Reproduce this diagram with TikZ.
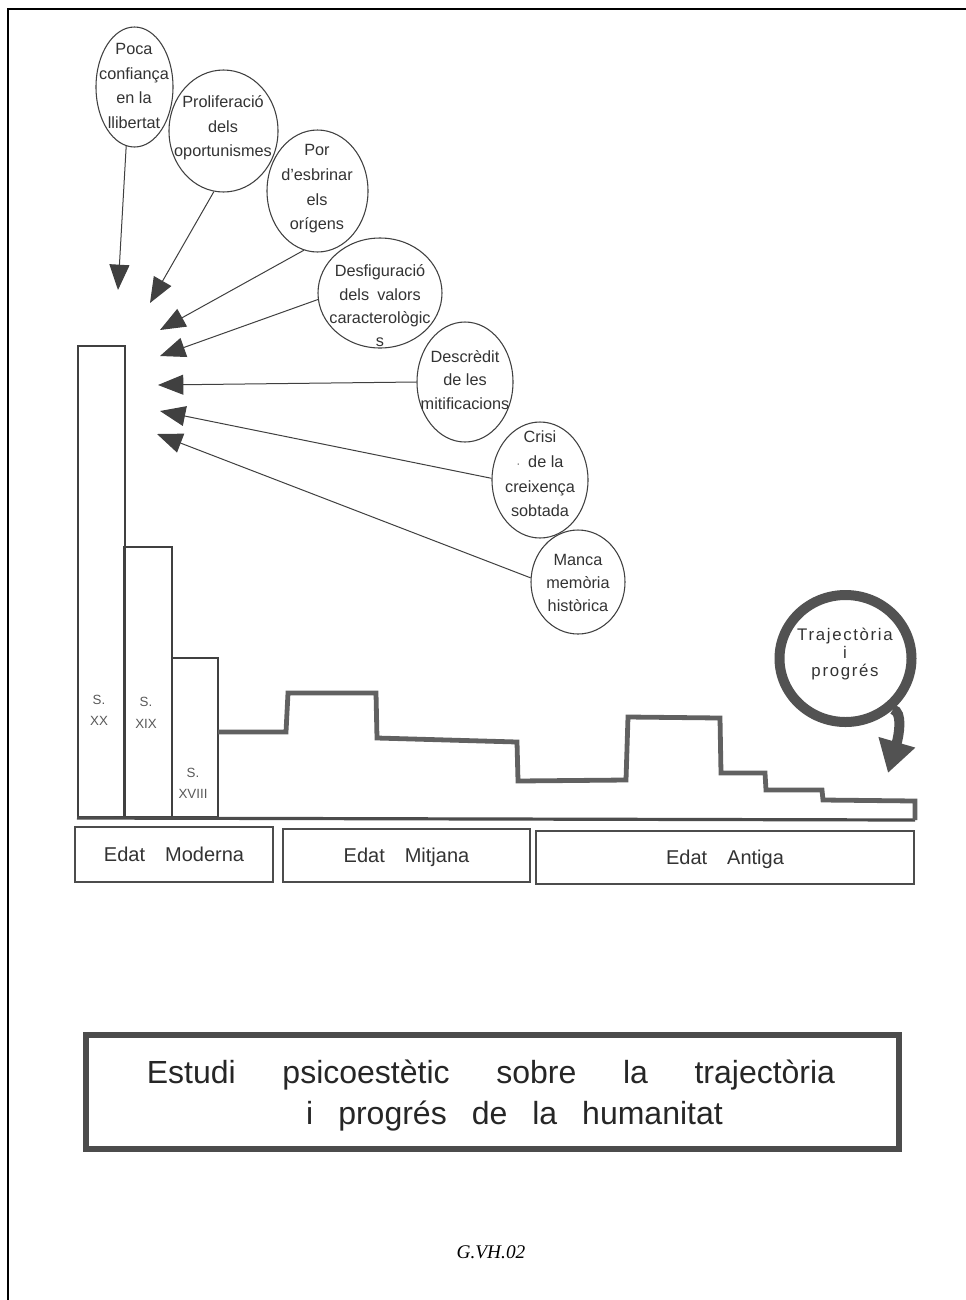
\documentclass[tikz,border=0pt]{standalone}
\usepackage{fontspec}
\setmainfont{Liberation Sans}
\newfontfamily\sigfont{Liberation Serif}
\newfontfamily\spacedfont{Liberation Sans}[LetterSpace=10]
\usetikzlibrary{shapes.geometric,arrows.meta}
\begin{document}
\begin{tikzpicture}[x=0.75pt,y=-0.75pt,
  bub/.style={ellipse,draw=black!75,line width=0.8pt,inner sep=0pt},
  bsz/.style 2 args={minimum width=#1*0.75pt,minimum height=#2*0.75pt},
  btxt/.style={align=center,inner sep=0pt,text=black!80,font=\fontsize{12.2pt}{18.5pt}\selectfont},
  arr/.style={draw=black!75,line width=0.75pt,-{Triangle[length=19pt,width=15pt]}},
  bar/.style={draw=black!75,line width=2.2pt},
  stepln/.style={draw=black!62,line width=3.6pt,line join=miter},
  barlbl/.style={align=center,inner sep=0pt,text=black!65,font=\fontsize{10pt}{16pt}\selectfont},
  erabox/.style={draw=black!70,line width=0.9pt,inner sep=0pt,text height=12pt,text depth=1pt,text=black!80,font=\fontsize{15pt}{18pt}\selectfont},
  ringnode/.style={ellipse,draw=black!68,line width=7.5pt,inner sep=0pt},
  ringarr/.style={draw=black!68,line width=7.5pt,-{Triangle[length=24pt,width=27pt]}},
  ringtxt/.style={align=center,inner sep=0pt,text=black!80,font=\spacedfont\fontsize{12.6pt}{13.2pt}\selectfont},
  titlebox/.style={draw=black!70,line width=4.5pt,inner sep=0pt},
  titletxt/.style={inner sep=0pt,text=black!85,font=\fontsize{24pt}{29pt}\selectfont},
  sig/.style={inner sep=0pt,font=\sigfont\itshape\fontsize{14.5pt}{17pt}\selectfont}
]
\useasboundingbox[fill=white] (0,0) rectangle (966,1300);
% outer frame
\draw[line width=2.2pt] (8,1320) -- (8,9) -- (990,9);

% bubbles
\node[bub,bsz={77}{120}] (c1) at (134.5,87) {};
\node[bub,bsz={109}{122}] (c2) at (223.5,131) {};
\node[bub,bsz={101}{122}] (c3) at (317.5,191) {};
\node[bub,bsz={124}{110}] (c4) at (380,293) {};
\node[bub,bsz={96}{120}] (c5) at (465,382) {};
\node[bub,bsz={96}{116}] (c6) at (540,480) {};
\node[bub,bsz={94}{104}] (c7) at (578,582) {};

\node[btxt] (c1t) at (134,86) {Poca\\confiança\\en la\\llibertat};
\node[btxt] (c2t) at (223,128) {Proliferació\\dels\\oportunismes};
\node[btxt] (c3t) at (317,189) {Por\\d'esbrinar\\els\\orígens};
\node[btxt,font=\fontsize{12.2pt}{17.5pt}\selectfont] (c4t) at (380,306) {Desfiguració\\dels\enspace valors\\caracterològic\\s};
\node[btxt,font=\fontsize{12.2pt}{17.5pt}\selectfont] (c5t) at (465,380) {Descrèdit\\de les\\mitificacions};
\node[btxt] (c6t) at (540,474) {Crisi\\{\footnotesize·}\enspace de la\\creixença\\sobtada};
\node[btxt,font=\fontsize{12.2pt}{17pt}\selectfont] (c7t) at (578,583) {Manca\\memòria\\històrica};

% arrow tips
\coordinate (t1) at (118,290);
\coordinate (t2) at (150,303);
\coordinate (t3) at (160,330);
\coordinate (t4) at (160,356);
\coordinate (t5) at (158,385);
\coordinate (t6) at (160,411);
\coordinate (t7) at (157,434);

\draw[arr] (c1.262) -- (t1);
\draw[arr] (c2.261) -- (t2);
\draw[arr] (c3.257) -- (t3);
\draw[arr] (c4.186) -- (t4);
\draw[arr] (c5.180) -- (t5);
\draw[arr] (c6.178) -- (t6);
\draw[arr] (c7.175) -- (t7);

% bars
\draw[bar] (78,346) rectangle (125,817);
\draw[bar] (124,547) rectangle (172,817);
\draw[bar] (172,658) rectangle (218,817);
\node[barlbl] (b1) at (99,710) {S.\\XX};
\node[barlbl] (b2) at (146,713) {S.\\XIX};
\node[barlbl] (b3) at (193,783) {S.\\XVIII};

% baseline
\draw[draw=black!70,line width=2.4pt] (77,818) -- (915,820);
% step line
\draw[stepln] (218,732) -- (286,732) -- (288,693) -- (376,693) -- (377,738)
  -- (517,742) -- (518,781) -- (626,780) -- (628,717) -- (720,718) -- (721,773)
  -- (765,773) -- (766,790) -- (822,790) -- (823,800) -- (915,801) -- (915,820);

% trajectory ring
\node[ringnode,bsz={132}{127}] (traj) at (845.5,658.5) {};
\node[ringtxt] (trajt) at (845,654) {Trajectòria\\i\\progrés};
\coordinate (tipR) at (888,773);
\draw[ringarr] (traj.-47) .. controls (903,712) and (899,735) .. (tipR);

% era boxes
\node[erabox,bsz={198}{55}] (e1) at (174,854.5) {Edat\quad Moderna};
\node[erabox,bsz={247}{53}] (e2) at (406.5,855.5) {Edat\quad Mitjana};
\node[erabox,bsz={378}{53}] (e3) at (725,857.5) {Edat\quad Antiga};

% title
\node[titlebox,bsz={813}{114}] (tb) at (492.5,1092) {};
\node[titletxt] (tl1) at (491,1075) {Estudi\hspace{35pt}psicoestètic\hspace{35pt}sobre\hspace{35pt}la\hspace{35pt}trajectòria};
\node[titletxt] (tl2) at (514.5,1116) {i\hspace{18.75pt}progrés\hspace{18.75pt}de\hspace{18.75pt}la\hspace{18.75pt}humanitat};

\node[sig] (sg) at (491,1252) {G.VH.02};
\end{tikzpicture}
\end{document}
